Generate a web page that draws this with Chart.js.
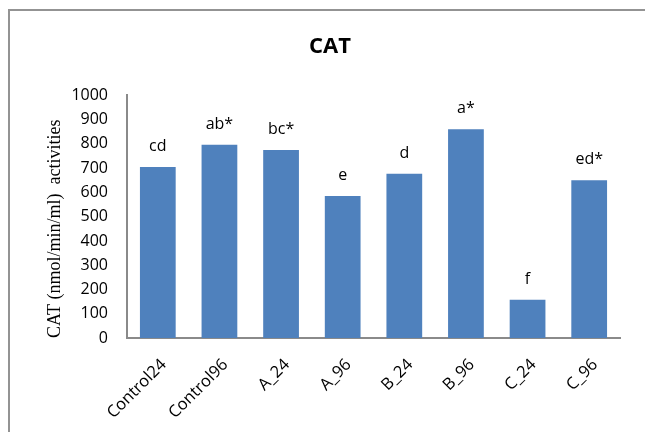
<!DOCTYPE html>
<html>
<head>
<meta charset="utf-8">
<script src="https://cdn.jsdelivr.net/npm/chart.js@4/dist/chart.umd.min.js"></script>
<style>
  html, body { margin: 0; padding: 0; background: #ffffff; }
  #wrap { position: relative; width: 645px; height: 432px; }
</style>
</head>
<body>
<div id="wrap"><canvas id="chart" width="645" height="432"></canvas></div>
<script>
// CAT activity per treatment group
const groups = ['Control24', 'Control96', 'A_24', 'A_96', 'B_24', 'B_96', 'C_24', 'C_96'];
const catActivity = [705, 797, 775, 585, 677, 860, 158, 650];
const significance = ['cd', 'ab*', 'bc*', 'e', 'd', 'a*', 'f', 'ed*'];
const yTicks = [0, 100, 200, 300, 400, 500, 600, 700, 800, 900, 1000];

const uiFont = "'Open Sans', 'Liberation Sans', sans-serif";

// Frame around the chart and letters above each bar
const decorations = {
  id: 'decorations',
  beforeDraw(chart) {
    const ctx = chart.ctx;
    ctx.save();
    ctx.fillStyle = '#ffffff';
    ctx.fillRect(0, 0, chart.width, chart.height);
    ctx.strokeStyle = '#939393';
    ctx.lineWidth = 2;
    ctx.beginPath();
    ctx.moveTo(9, chart.height + 5);
    ctx.lineTo(9, 10);
    ctx.lineTo(chart.width + 5, 10);
    ctx.stroke();
    ctx.restore();
  },
  afterDatasetsDraw(chart) {
    const ctx = chart.ctx;
    const meta = chart.getDatasetMeta(0);
    ctx.save();
    ctx.fillStyle = '#000000';
    ctx.font = '16px ' + uiFont;
    ctx.textAlign = 'center';
    ctx.textBaseline = 'alphabetic';
    meta.data.forEach((bar, i) => {
      ctx.fillText(significance[i], bar.x, bar.y - 16);
    });
    ctx.restore();
  }
};

new Chart(document.getElementById('chart'), {
  type: 'bar',
  data: {
    labels: groups,
    datasets: [{
      data: catActivity,
      backgroundColor: '#4F81BD',
      borderWidth: 0,
      categoryPercentage: 1.0,
      barPercentage: 0.58
    }]
  },
  options: {
    responsive: false,
    animation: false,
    devicePixelRatio: 1,
    layout: { padding: { left: 40, right: 25, top: 10, bottom: 0 } },
    plugins: {
      legend: { display: false },
      tooltip: { enabled: false },
      title: {
        display: true,
        text: 'CAT',
        color: '#000000',
        font: { family: uiFont, size: 22, weight: 'bold' },
        padding: { top: 24, bottom: 35 }
      }
    },
    scales: {
      x: {
        grid: { display: false, drawTicks: false },
        border: { display: true, color: '#8a8a8a', width: 2 },
        ticks: {
          color: '#000000',
          font: { family: uiFont, size: 16.5 },
          minRotation: 45,
          maxRotation: 45,
          autoSkip: false,
          padding: 17,
          labelOffset: 6
        },
        afterFit(scale) { scale.height = 94; }
      },
      y: {
        min: yTicks[0],
        max: yTicks[yTicks.length - 1],
        afterBuildTicks(scale) { scale.ticks = yTicks.map(v => ({ value: v })); },
        grid: { display: false, drawTicks: false },
        border: { display: true, color: '#8a8a8a', width: 2 },
        ticks: {
          color: '#000000',
          font: { family: uiFont, size: 16 },
          padding: 19,
          callback: (v) => String(v)
        },
        title: {
          display: true,
          text: 'CAT (nmol/min/ml)  activities',
          color: '#000000',
          align: 'start',
          font: { family: "'Liberation Serif', 'DejaVu Serif', serif", size: 18 },
          padding: { top: 4, bottom: 4 }
        },
        afterFit(scale) { scale.width = 87; }
      }
    }
  },
  plugins: [decorations]
});
</script>
</body>
</html>
